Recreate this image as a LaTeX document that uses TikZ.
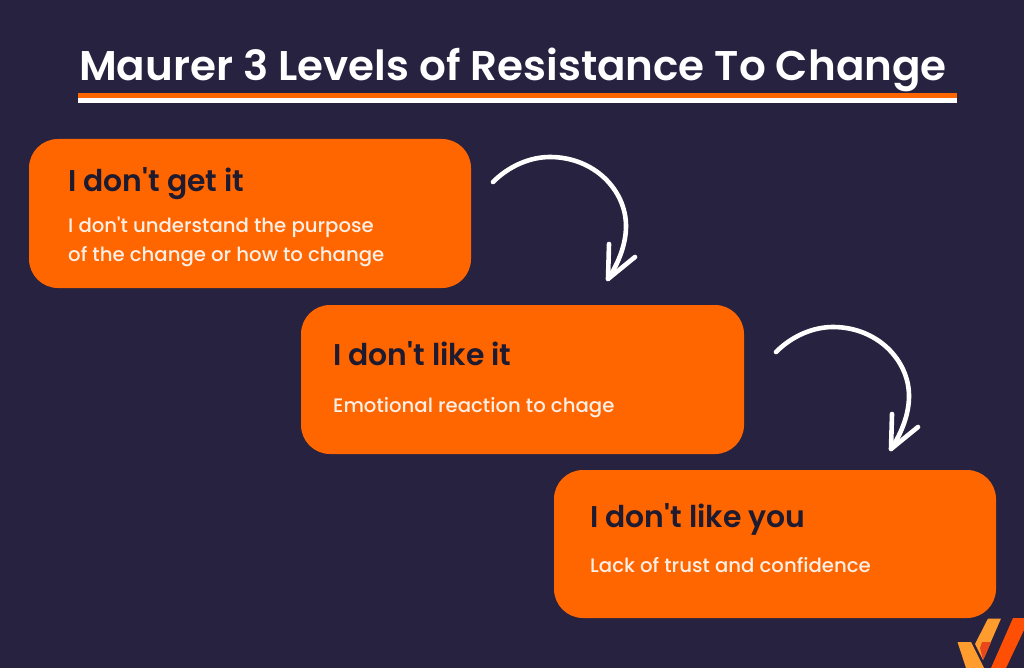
\documentclass[tikz,border=0pt]{standalone}
\usepackage{fontspec}
\setmainfont{Poppins}
\newfontfamily\headfont[FakeStretch=0.995]{Poppins SemiBold}
\newfontfamily\bodyfont[FakeStretch=1.01]{Poppins Medium}
\newfontfamily\titlefont[FakeStretch=1.013]{Poppins SemiBold}
\definecolor{bgnavy}{HTML}{26223F}
\definecolor{boxorange}{HTML}{FF6600}
\definecolor{headink}{HTML}{1E1A30}
\definecolor{softwhite}{HTML}{FBEFE6}
\definecolor{logolight}{HTML}{FF9C2E}
\definecolor{logomid}{HTML}{E8481A}
\definecolor{logodark}{HTML}{FF4F05}
\tikzset{
  x=1pt,y=-1pt,
  card/.style={fill=boxorange,draw=none,rounded corners=29pt},
  cardhead/.style={anchor=base west,inner sep=0pt,text=headink,font=\headfont\fontsize{30}{34}\selectfont},
  cardtext/.style={anchor=base west,inner sep=0pt,text=softwhite,font=\bodyfont\fontsize{19.5}{24}\selectfont},
  sweep/.style={draw=white,line width=4.6pt,line cap=round,line join=round},
}
\begin{document}
\begin{tikzpicture}
\useasboundingbox (0,0) rectangle (1024,668);
\fill[bgnavy] (0,0) rectangle (1024,668);
% title
\node[anchor=base west,inner sep=0pt,text=white,font=\titlefont\fontsize{41.5}{48}\selectfont] (title) at (79,81) {Maurer 3 Levels of Resistance To Change};
\fill[boxorange] (78,93) rectangle (957,98);
\fill[white] (78,98) rectangle (957,103);
% cards
\fill[card] (29,139) rectangle (471,288);
\fill[card] (301,305) rectangle (744,454);
\fill[card] (554,470) rectangle (996,618);
\node[cardhead] (h1) at (68,192) {I don't get it};
\node[cardtext] (t1a) at (68,233) {I don't understand the purpose};
\node[cardtext] (t1b) at (68,261) {of the change or how to change};
\node[cardhead] (h2) at (333,365) {I don't like it};
\node[cardtext] (t2) at (333,412) {Emotional reaction to chage};
\node[cardhead] (h3) at (590,527) {I don't like you};
\node[cardtext] (t3) at (590,572) {Lack of trust and confidence};
% arrows
\coordinate (a1s) at (493,182);
\coordinate (a1e) at (608,279);
\coordinate (a1l) at (609,244);
\coordinate (a1r) at (635,257);
\draw[sweep] (a1s) .. controls (509,166) and (530,157) .. (550,157)
  .. controls (594,157) and (626,190) .. (626,226)
  .. controls (626,245) and (618,264) .. (a1e);
\draw[sweep] (a1l) -- (a1e) -- (a1r);
\coordinate (a2s) at (776,352);
\coordinate (a2e) at (891,449);
\coordinate (a2l) at (892,414);
\coordinate (a2r) at (918,427);
\draw[sweep] (a2s) .. controls (792,336) and (813,327) .. (833,327)
  .. controls (877,327) and (909,360) .. (909,396)
  .. controls (909,415) and (901,434) .. (a2e);
\draw[sweep] (a2l) -- (a2e) -- (a2r);
% logo
\fill[logolight] (957.5,642) -- (971,642) -- (984,668) -- (966,668) -- cycle;
\fill[logolight] (988,618.5) -- (1001,618.5) -- (983,660) -- (975,644) -- cycle;
\fill[logodark] (1013,618) -- (1024,618) -- (1024,630) -- (1006,668) -- (991,668) -- cycle;
\fill[logomid] (982,642) -- (991,642) -- (986,654) -- (983,660) -- (980,648) -- cycle;
\end{tikzpicture}
\end{document}
